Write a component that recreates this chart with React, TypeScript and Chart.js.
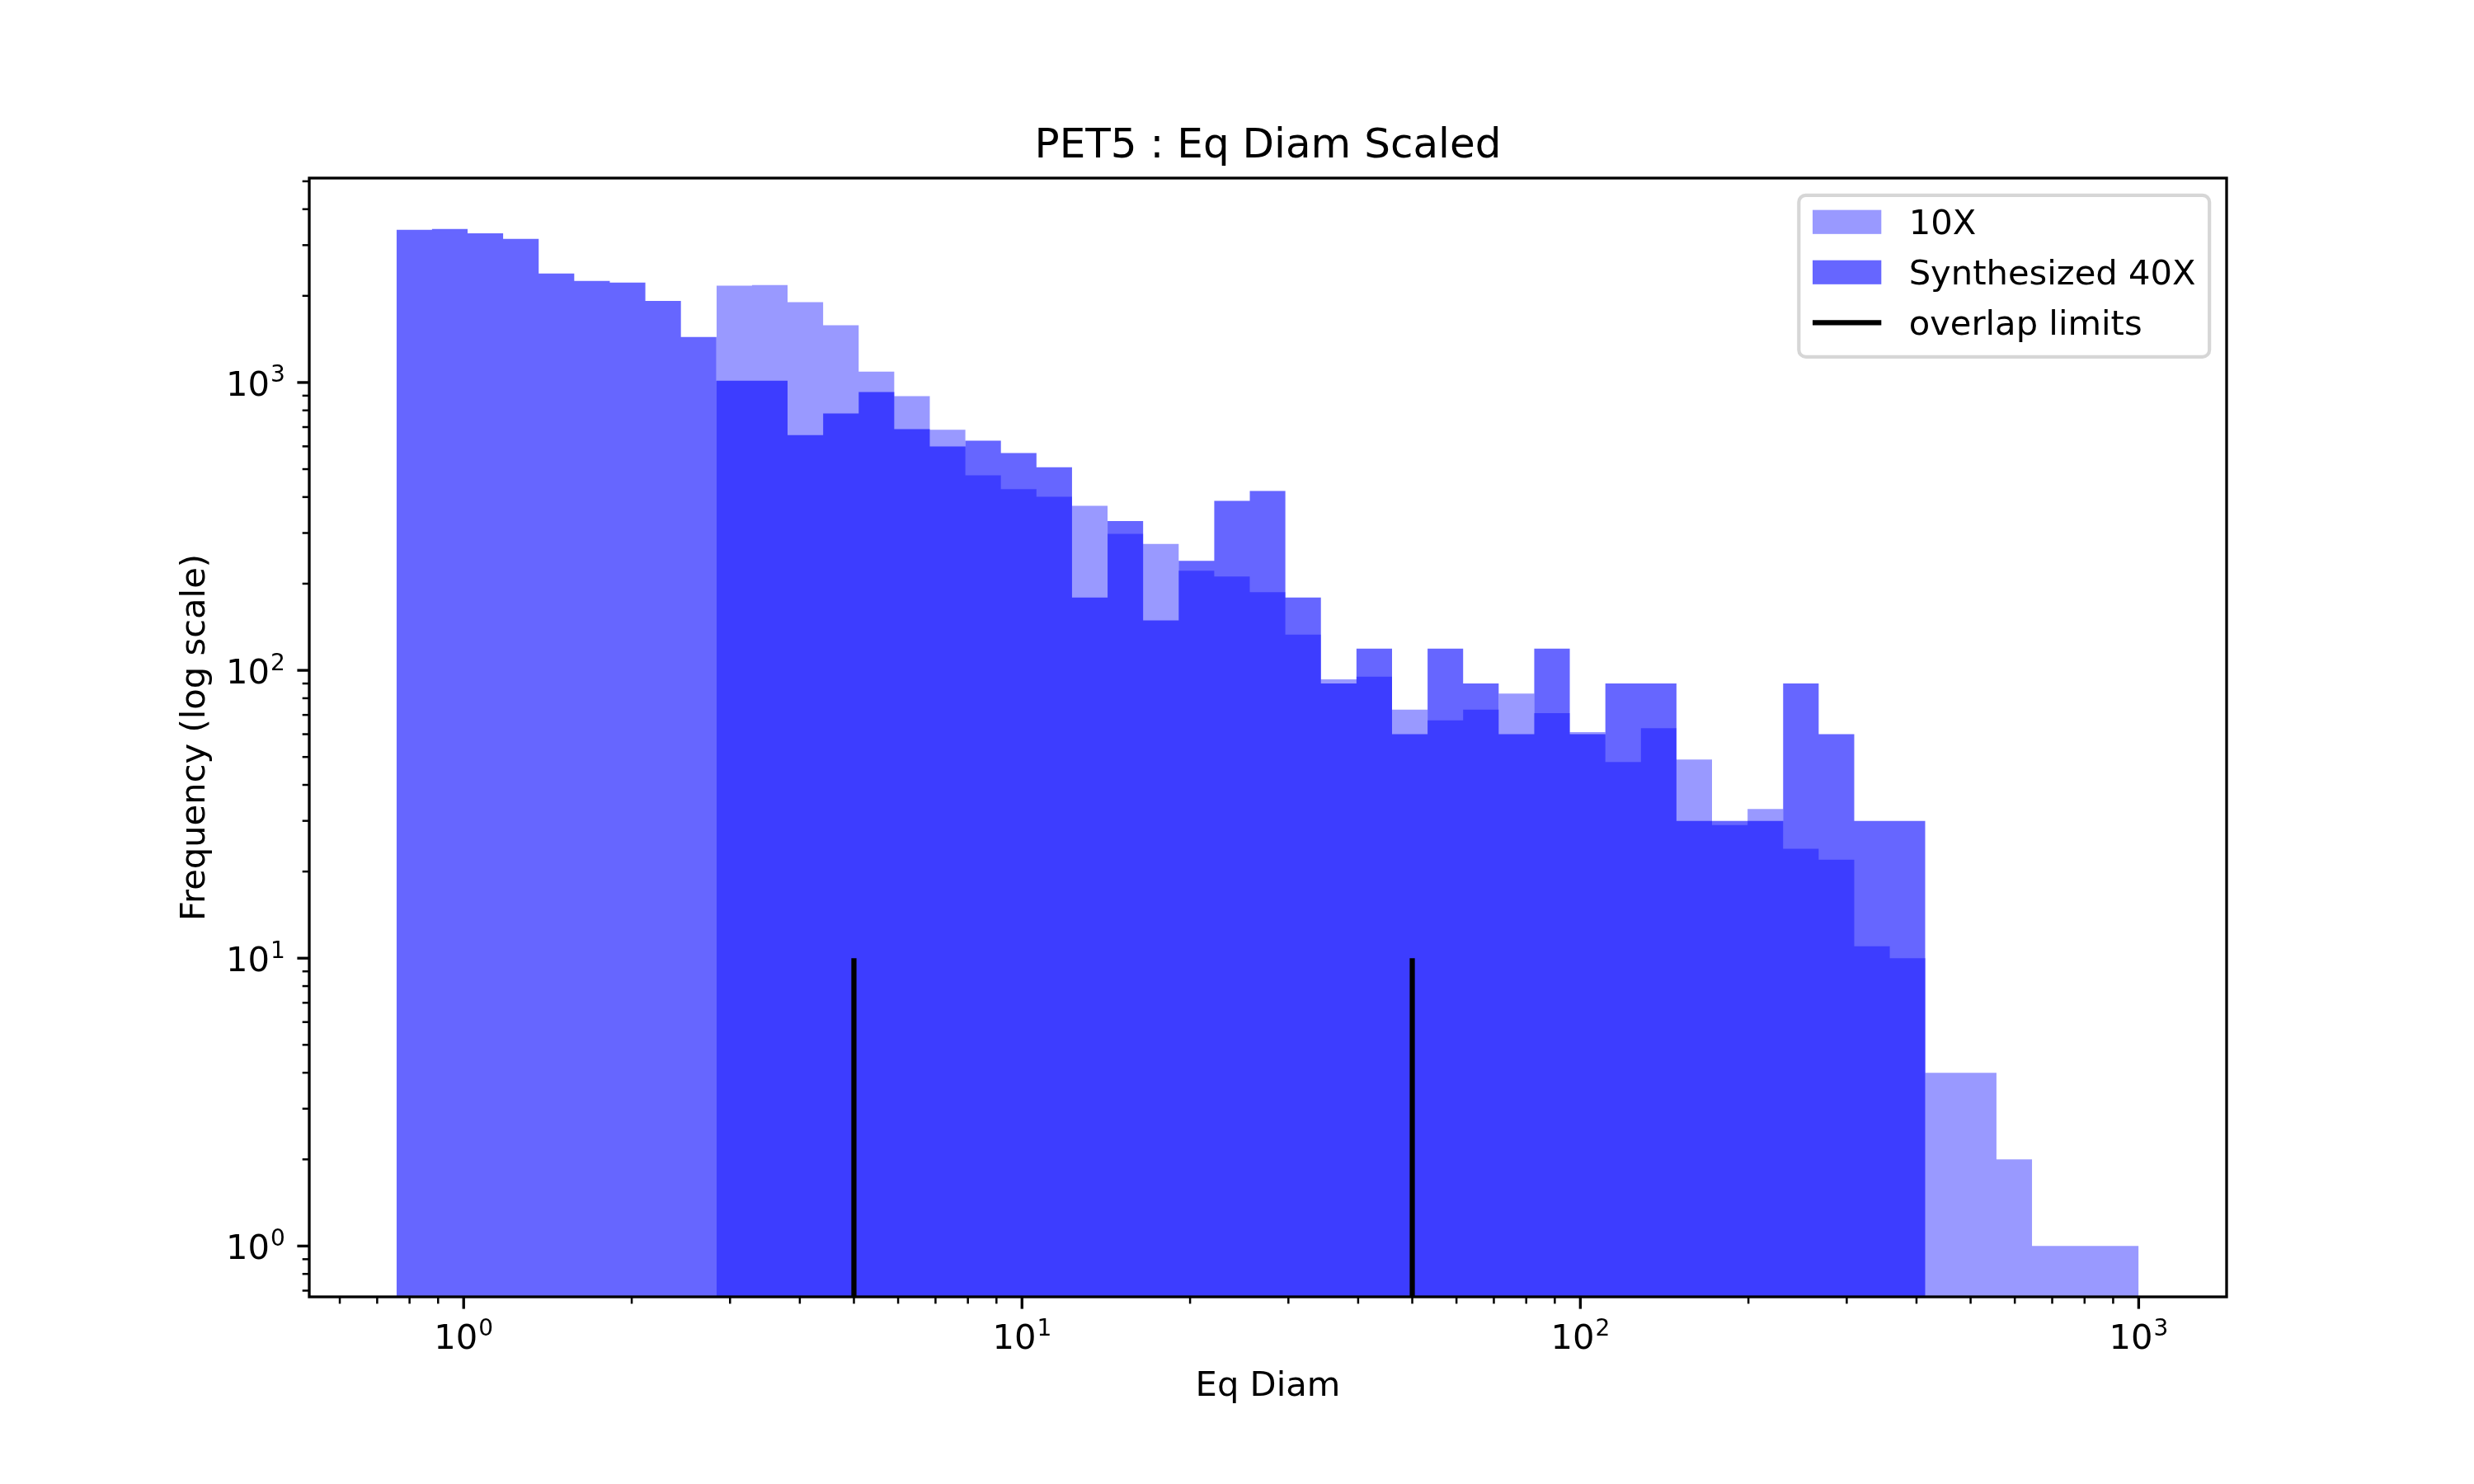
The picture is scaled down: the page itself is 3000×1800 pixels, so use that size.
import React, { useEffect, useRef } from 'react';
import { Chart, registerables } from 'chart.js';

Chart.register(...registerables);

// one matplotlib point at 300 dpi
const PT = 300 / 72;
const FONT = '"DejaVu Sans", sans-serif';

// 49 log-spaced histogram bins
const BIN_MIN = 0.758;
const BIN_MAX = 1000;
const BIN_COUNT = 49;

// Synthesized 40X counts, bins 1..43
const SYNTH_FIRST_BIN = 0;
const SYNTH_40X = [
  3390, 3415, 3300, 3155, 2390, 2255, 2225, 1920, 1440, 1015,
  1015, 657, 780, 926, 689, 600, 628, 569, 508, 179,
  330, 149, 240, 388, 420, 179, 90, 119, 60, 119,
  90, 60, 119, 60, 90, 90, 30, 30, 30, 90,
  60, 30, 30,
];

// 10X counts, bins 10..49
const TENX_FIRST_BIN = 9;
const COUNTS_10X = [
  2170, 2180, 1900, 1580, 1090, 896, 685, 476, 426, 401,
  373, 298, 275, 222, 212, 187, 133, 93, 95, 73,
  67, 73, 83, 71, 61, 48, 63, 49, 29, 33,
  24, 22, 11, 10, 4, 4, 2, 1, 1, 1,
];

const OVERLAP_LIMITS = [5, 50];
const OVERLAP_TOP = 10;

const X_RANGE = [0.529, 1437];
const Y_RANGE = [0.666, 5130];
const MAJOR_TICKS = [1, 10, 100, 1000];
const TICK_EXPONENTS = ['0', '1', '2', '3'];

const TITLE = 'PET5 : Eq Diam Scaled';
const X_LABEL = 'Eq Diam';
const Y_LABEL = 'Frequency (log scale)';
const LEGEND_ITEMS = [
  { text: '10X', kind: 'patch', color: 'rgba(0,0,255,0.4)' },
  { text: 'Synthesized 40X', kind: 'patch', color: 'rgba(0,0,255,0.6)' },
  { text: 'overlap limits', kind: 'line', color: '#000000' },
];

const logMin = Math.log10(BIN_MIN);
const logMax = Math.log10(BIN_MAX);
const BIN_EDGES = Array.from({ length: BIN_COUNT + 1 }, (_, i) =>
  Math.pow(10, logMin + ((logMax - logMin) * i) / BIN_COUNT)
);

function histPoints(counts: number[], first: number) {
  const pts = counts.map((c, i) => ({ x: BIN_EDGES[first + i], y: c }));
  pts.push({ x: BIN_EDGES[first + counts.length], y: counts[counts.length - 1] });
  return pts;
}

function logTicks(min: number, max: number) {
  const out: { v: number; major: boolean }[] = [];
  for (let e = Math.floor(Math.log10(min)); e <= Math.ceil(Math.log10(max)); e++) {
    for (let m = 1; m < 10; m++) {
      const v = m * Math.pow(10, e);
      if (v >= min && v <= max) out.push({ v, major: m === 1 });
    }
  }
  return out;
}

const FS = 10 * PT; // 10pt text
const SUP = 28;

function powWidth(ctx: CanvasRenderingContext2D, exp: string) {
  ctx.font = `${FS}px ${FONT}`;
  const w1 = ctx.measureText('10').width;
  ctx.font = `${SUP}px ${FONT}`;
  const w2 = ctx.measureText(exp).width;
  return { w1, w2, total: w1 + 1 + w2 };
}

function drawPow(ctx: CanvasRenderingContext2D, x: number, baseline: number, exp: string) {
  const { w1 } = powWidth(ctx, exp);
  ctx.textAlign = 'left';
  ctx.textBaseline = 'alphabetic';
  ctx.font = `${FS}px ${FONT}`;
  ctx.fillText('10', x, baseline);
  ctx.font = `${SUP}px ${FONT}`;
  ctx.fillText(exp, x + w1 + 1, baseline - 16.5);
}

const mplAxes = {
  id: 'mplAxes',
  afterDraw(chart: any) {
    const { ctx, chartArea: a, scales } = chart;
    const xs = scales.x;
    const ys = scales.y;
    ctx.save();
    ctx.fillStyle = '#000';
    ctx.strokeStyle = '#000';
    ctx.lineCap = 'butt';

    // spines
    ctx.lineWidth = 0.8 * PT;
    ctx.strokeRect(a.left, a.top, a.right - a.left, a.bottom - a.top);

    // tick marks
    for (const t of logTicks(X_RANGE[0], X_RANGE[1])) {
      const px = xs.getPixelForValue(t.v);
      ctx.lineWidth = t.major ? 0.8 * PT : 0.6 * PT;
      ctx.beginPath();
      ctx.moveTo(px, a.bottom);
      ctx.lineTo(px, a.bottom + (t.major ? 3.5 : 2) * PT);
      ctx.stroke();
    }
    for (const t of logTicks(Y_RANGE[0], Y_RANGE[1])) {
      const py = ys.getPixelForValue(t.v);
      ctx.lineWidth = t.major ? 0.8 * PT : 0.6 * PT;
      ctx.beginPath();
      ctx.moveTo(a.left, py);
      ctx.lineTo(a.left - (t.major ? 3.5 : 2) * PT, py);
      ctx.stroke();
    }

    // tick labels
    MAJOR_TICKS.forEach((v, i) => {
      const exp = TICK_EXPONENTS[i];
      const { total } = powWidth(ctx, exp);
      const px = xs.getPixelForValue(v);
      drawPow(ctx, px - total / 2, a.bottom + 63, exp);
      const py = ys.getPixelForValue(v);
      drawPow(ctx, a.left - 7 * PT - total, py + 16, exp);
    });

    // axis labels
    ctx.font = `${FS}px ${FONT}`;
    ctx.textAlign = 'center';
    ctx.textBaseline = 'alphabetic';
    ctx.fillText(X_LABEL, (a.left + a.right) / 2, 1693);
    ctx.save();
    ctx.translate(248, (a.top + a.bottom) / 2);
    ctx.rotate(-Math.PI / 2);
    ctx.fillText(Y_LABEL, 0, 0);
    ctx.restore();

    // title
    ctx.font = `${12 * PT}px ${FONT}`;
    ctx.fillText(TITLE, (a.left + a.right) / 2, a.top - 6 * PT);

    // legend
    ctx.font = `${FS}px ${FONT}`;
    const textW = Math.max(...LEGEND_ITEMS.map((it) => ctx.measureText(it.text).width));
    const pad = 0.4 * FS;
    const handleLen = 2 * FS;
    const textPad = 0.8 * FS;
    const right = a.right - 0.5 * FS;
    const top = a.top + 0.5 * FS;
    const width = pad + handleLen + textPad + textW + pad;
    const height = 196;
    const left = right - width;
    ctx.beginPath();
    ctx.roundRect(left, top, width, height, 0.2 * FS);
    ctx.fillStyle = 'rgba(255,255,255,0.8)';
    ctx.fill();
    ctx.lineWidth = 1 * PT;
    ctx.strokeStyle = 'rgba(204,204,204,0.8)';
    ctx.stroke();

    LEGEND_ITEMS.forEach((it, i) => {
      const baseline = top + 47 + i * 61;
      const hx = left + pad;
      if (it.kind === 'patch') {
        ctx.fillStyle = it.color;
        ctx.fillRect(hx, baseline - 0.7 * FS, handleLen, 0.7 * FS);
      } else {
        ctx.strokeStyle = it.color;
        ctx.lineWidth = 1.5 * PT;
        ctx.beginPath();
        ctx.moveTo(hx, baseline - 0.35 * FS);
        ctx.lineTo(hx + handleLen, baseline - 0.35 * FS);
        ctx.stroke();
      }
      ctx.fillStyle = '#000';
      ctx.textAlign = 'left';
      ctx.fillText(it.text, hx + handleLen + textPad, baseline);
    });

    ctx.restore();
  },
};

export default function App() {
  const canvasRef = useRef<HTMLCanvasElement>(null);
  const chartRef = useRef<Chart | null>(null);

  useEffect(() => {
    document.body.style.margin = '0';
    if (!canvasRef.current) return;
    if (chartRef.current) chartRef.current.destroy();

    const histStyle = {
      stepped: true,
      fill: 'start',
      borderWidth: 0,
      borderColor: 'rgba(0,0,0,0)',
      pointRadius: 0,
      pointHoverRadius: 0,
      order: 1,
    };

    chartRef.current = new Chart(canvasRef.current, {
      type: 'line',
      data: {
        datasets: [
          {
            label: '10X',
            data: histPoints(COUNTS_10X, TENX_FIRST_BIN),
            backgroundColor: 'rgba(0,0,255,0.4)',
            ...histStyle,
          },
          {
            label: 'Synthesized 40X',
            data: histPoints(SYNTH_40X, SYNTH_FIRST_BIN),
            backgroundColor: 'rgba(0,0,255,0.6)',
            ...histStyle,
          },
          // vlines drawn last (lowest order ends up on top)
          ...OVERLAP_LIMITS.map((x) => ({
            label: 'overlap limits',
            data: [
              { x, y: Y_RANGE[0] },
              { x, y: OVERLAP_TOP },
            ],
            borderColor: '#000000',
            borderWidth: 1.5 * PT,
            borderCapStyle: 'butt',
            pointRadius: 0,
            fill: false,
            order: 0,
          })),
        ],
      } as any,
      options: {
        animation: false,
        responsive: false,
        devicePixelRatio: 1,
        layout: { padding: { left: 375, top: 216, right: 300, bottom: 227 } },
        scales: {
          x: { type: 'logarithmic', min: X_RANGE[0], max: X_RANGE[1], display: false },
          y: { type: 'logarithmic', min: Y_RANGE[0], max: Y_RANGE[1], display: false },
        },
        plugins: {
          legend: { display: false },
          tooltip: { enabled: false },
          title: { display: false },
        },
      },
      plugins: [mplAxes],
    });

    return () => {
      if (chartRef.current) {
        chartRef.current.destroy();
        chartRef.current = null;
      }
    };
  }, []);

  return (
    <div style={{ position: 'absolute', left: 0, top: 0, width: 3000, height: 1800, background: '#ffffff' }}>
      <canvas ref={canvasRef} width={3000} height={1800} style={{ display: 'block', width: 3000, height: 1800 }} />
    </div>
  );
}
